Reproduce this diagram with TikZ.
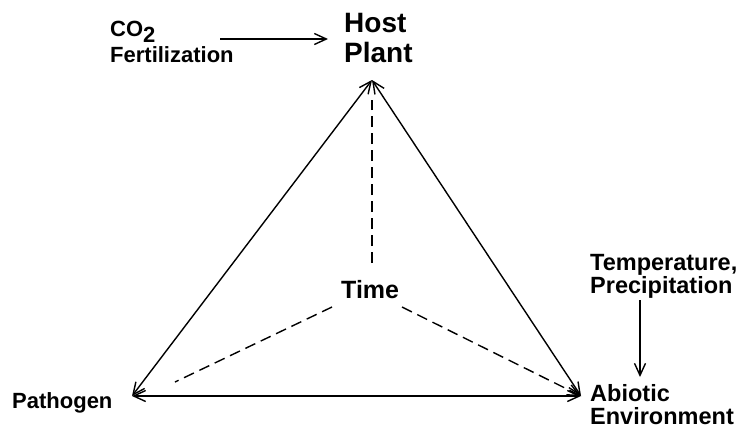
\documentclass[tikz,border=0pt]{standalone}
\usepackage{fontspec}
\setmainfont{Liberation Sans}
\usetikzlibrary{arrows.meta}
\begin{document}
\begin{tikzpicture}[x=1pt,y=-1pt,
  lbl/.style={inner sep=0pt, anchor=base west, font=\bfseries\fontsize{22}{24}\selectfont},
  lblr/.style={lbl, font=\bfseries\fontsize{23.5}{26}\selectfont},
  big/.style={lbl, font=\bfseries\fontsize{28}{30}\selectfont},
  conn/.style={line width=1.4pt, -{Straight Barb[length=12pt,width=11pt]}},
  both/.style={line width=1.4pt, {Straight Barb[length=12pt,width=11pt]}-{Straight Barb[length=12pt,width=11pt]}},
  dsh/.style={line width=1.4pt, dash pattern=on 11pt off 6pt}]
\useasboundingbox (0,0) rectangle (743,429);
% text
\node[lbl] (co2) at (110,36) {CO\raisebox{-6pt}{2}};
\node[lbl] (fert) at (110,62) {Fertilization};
\node[big] (host) at (344,32) {Host};
\node[big] (plant) at (344,62) {Plant};
\node[lbl, font=\bfseries\fontsize{25}{27}\selectfont] (time) at (341,298) {Time};
\node[lblr] (temp) at (590,270) {Temperature,};
\node[lblr] (prec) at (590,293) {Precipitation};
\node[lbl] (path) at (12,408) {Pathogen};
\node[lblr] (abio) at (590,401) {Abiotic};
\node[lblr] (env) at (590,424) {Environment};
% vertices
\coordinate (hp) at (372,80);
\coordinate (pa) at (132,396);
\coordinate (ab) at (581,396);
\coordinate (co2s) at (220,39);
\coordinate (co2e) at (328,39);
\coordinate (tpS) at (640,300);
\coordinate (tpE) at (640,377);
\coordinate (tU) at (372,263);
\coordinate (tUe) at (372,100);
\coordinate (tL) at (332,307);
\coordinate (tLe) at (175,382);
\coordinate (tR) at (402,307);
% solid connectors
\draw[conn] (co2s) -- (co2e);
\draw[both] (pa) -- (hp);
\draw[both] (hp) -- (ab);
\draw[both] (pa) -- (ab);
\draw[conn] (tpS) -- (tpE);
% dashed
\draw[dsh] (tU) -- (tUe);
\draw[dsh] (tL) -- (tLe);
\draw[dsh, -{Straight Barb[length=12pt,width=11pt]}] (tR) -- (ab);
\end{tikzpicture}
\end{document}
